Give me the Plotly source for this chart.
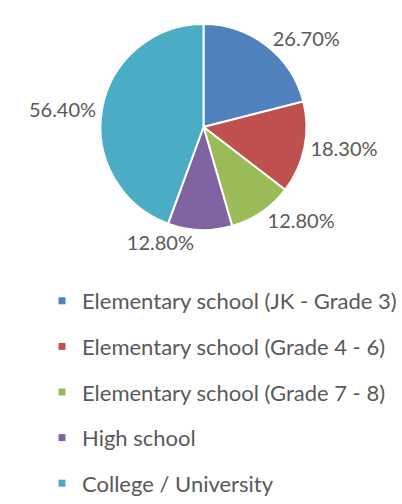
import plotly.graph_objects as go

categories = [
    "Elementary school (JK - Grade 3)",
    "Elementary school (Grade 4 - 6)",
    "Elementary school (Grade 7 - 8)",
    "High school",
    "College / University",
]
values = [26.70, 18.30, 12.80, 12.80, 56.40]
colors = ["#4F81BD", "#C0504D", "#9BBB59", "#8064A2", "#4BACC6"]

W, H = 402, 504
FONT = "Lato"
TXT = "#595959"

fig = go.Figure()
fig.add_trace(go.Pie(
    labels=categories,
    values=values,
    sort=False,
    direction="clockwise",
    rotation=0,
    marker=dict(colors=colors, line=dict(color="white", width=2)),
    texttemplate="%{value:.2f}%",
    textposition="outside",
    textfont=dict(family=FONT, size=20, color=TXT),
    showlegend=False,
    hoverinfo="label+value",
    domain=dict(x=[100.5 / W, 306.5 / W], y=[1 - 230 / H, 1 - 24 / H]),
))

# legend entries (one per category)
for name, c in zip(categories, colors):
    fig.add_trace(go.Scatter(
        x=[None], y=[None], mode="markers", name=name, legendgroup=name,
        marker=dict(symbol="square", size=7, color=c),
    ))

fig.update_layout(
    width=W, height=H,
    margin=dict(l=0, r=0, t=0, b=0),
    paper_bgcolor="white", plot_bgcolor="white",
    xaxis=dict(visible=False), yaxis=dict(visible=False),
    legend=dict(
        x=48 / W, xanchor="left", y=0, yanchor="bottom",
        font=dict(family=FONT, size=22, color=TXT),
        tracegroupgap=14, bgcolor="rgba(0,0,0,0)",
    ),
)

fig.write_html("out.html")
